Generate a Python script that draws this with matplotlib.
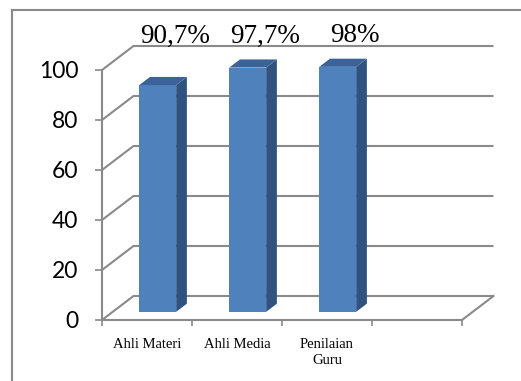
import matplotlib
matplotlib.use("Agg")
import matplotlib.pyplot as plt
from matplotlib.patches import Polygon, Rectangle
from matplotlib.lines import Line2D

categories = ["Ahli Materi", "Ahli Media", "Penilaian\nGuru"]
values = [90.7, 97.7, 98]
y_ticks = [0, 20, 40, 60, 80, 100]
n_slots = 4  # excel left an empty fourth category on the axis

# pseudo-3d geometry in data units
depth_x = 0.35
depth_y = 9.6
bar_w = 0.41
f_front, f_back = 0.34, 0.68

face = "#4f81bd"
side = "#30527f"
top = "#3b6399"
grid_c = "#8a8a8a"

W, H = 521, 381
fig = plt.figure(figsize=(W / 100, H / 100), dpi=100)
fig.patch.set_facecolor("white")

# axes placed so that 1 category = 90 px and 1 unit = 2.5 px
ax = fig.add_axes([102 / W, 51 / H, 400 / W, 310 / H])
ax.set_xlim(0, 400 / 90)
ax.set_ylim(-4, 120)
ax.set_facecolor("none")

for s in ["top", "right"]:
    ax.spines[s].set_visible(False)
ax.spines["left"].set_bounds(0, 100)
ax.spines["bottom"].set_position(("data", 0))
ax.spines["bottom"].set_bounds(0, n_slots)
for s in ["left", "bottom"]:
    ax.spines[s].set_color(grid_c)
    ax.spines[s].set_linewidth(1.5)

# back wall and floor gridlines
for v in y_ticks:
    ax.plot([0, depth_x, n_slots + depth_x], [v, v + depth_y, v + depth_y],
            color=grid_c, lw=1.5, zorder=1, solid_capstyle="butt")
ax.plot([n_slots, n_slots + depth_x], [0, depth_y], color=grid_c, lw=1.5, zorder=1)

# bars: front face, side and top
for i, v in enumerate(values):
    x0 = i + 0.5 - bar_w / 2
    x1 = x0 + bar_w
    ox1, oy1 = f_front * depth_x, f_front * depth_y
    ox2, oy2 = f_back * depth_x, f_back * depth_y
    ax.add_patch(Rectangle((x0 + ox1, oy1), bar_w, v, facecolor=face,
                           edgecolor="none", zorder=3))
    ax.add_patch(Polygon([(x1 + ox1, oy1), (x1 + ox2, oy2), (x1 + ox2, v + oy2),
                          (x1 + ox1, v + oy1)], closed=True, facecolor=side,
                         edgecolor="none", zorder=3))
    ax.add_patch(Polygon([(x0 + ox1, v + oy1), (x1 + ox1, v + oy1),
                          (x1 + ox2, v + oy2), (x0 + ox2, v + oy2)], closed=True,
                         facecolor=top, edgecolor="none", zorder=3))
    label = f"{v:g}%".replace(".", ",")
    ax.text(i + 0.81, 111, label, ha="center", va="baseline",
            family="Liberation Serif", fontsize=19.5, color="black")

ax.set_yticks(y_ticks)
ax.set_yticklabels([str(t) for t in y_ticks], family="Lato", fontsize=16.5)
ax.tick_params(axis="y", direction="out", length=5, width=1.2, color=grid_c, pad=12)

ax.set_xticks(range(n_slots + 1))
ax.set_xticklabels([])
ax.set_xticks([i + 0.5 for i in range(len(categories))], minor=True)
ax.set_xticklabels(categories, minor=True, family="Liberation Serif", fontsize=10.5,
                   linespacing=1.3)
ax.tick_params(axis="x", which="major", direction="out", length=4, width=1.2, color=grid_c)
ax.tick_params(axis="x", which="minor", length=0, pad=13)

# chart area border (only top and left fall inside the image)
bx, by = 11.5 / W, 1 - 10 / H
fig.add_artist(Line2D([bx, bx], [0, by], color=grid_c, lw=1.5))
fig.add_artist(Line2D([bx, 1], [by, by], color=grid_c, lw=1.5))

fig.savefig("out.png", dpi=100)
